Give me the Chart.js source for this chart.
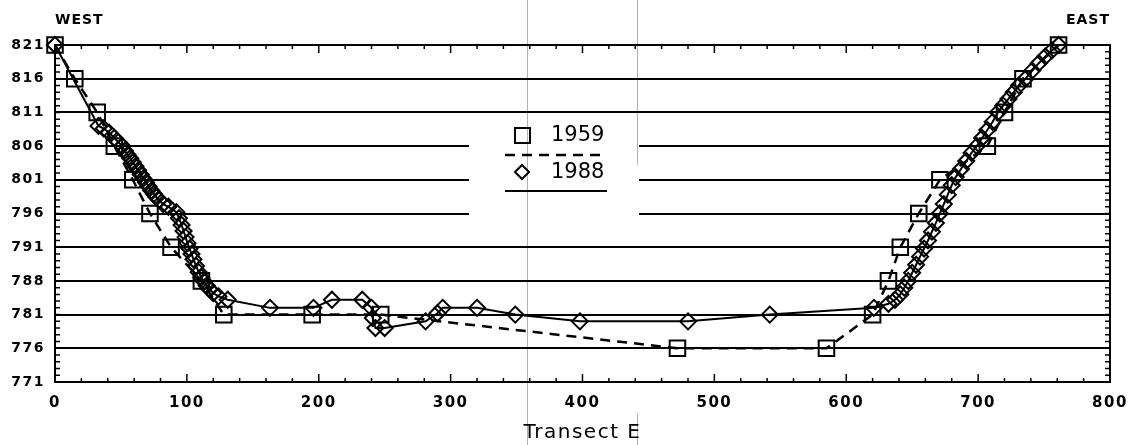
<!DOCTYPE html>
<html>
<head>
<meta charset="utf-8">
<script src="https://cdn.jsdelivr.net/npm/chart.js@4/dist/chart.umd.min.js"></script>
<style>
  html, body { margin: 0; padding: 0; background: #fff; }
  #wrap { width: 1144px; height: 445px; position: relative; }
</style>
</head>
<body>
<div id="wrap"><canvas id="c" width="1144" height="445"></canvas></div>
<script>
// ---- data ----
const seriesNames = ['1959', '1988'];

const x1959 = [0, 15, 32, 45, 59, 72, 88, 111, 128, 195, 247, 472, 585, 620, 632, 641, 655, 671, 707, 720, 734, 761];
const y1959 = [821, 816, 811, 806, 801, 796, 791, 786, 781, 781, 781, 776, 776, 781, 786, 791, 796, 801, 806, 811, 816, 821];

const x1988 = [0, 33, 37, 41, 45, 48, 51, 53, 55, 57, 59, 61, 63, 65, 67, 69, 71, 73, 75, 77, 79, 82, 86, 92,
  94, 96, 97.5, 99, 100.5, 102, 103.5, 105, 107, 109, 111, 113, 115, 117, 120, 124, 131,
  163, 196, 210, 233, 240, 241, 243, 250, 281, 290, 294, 320, 349, 398, 480, 542, 621,
  632, 637, 641, 644, 647, 650, 653, 656, 659, 662, 665, 668, 671, 674, 677, 680, 683, 687, 691, 695, 699,
  703, 707, 711, 715, 719, 723, 727, 731, 736, 741, 746, 751, 756, 761];
const y1988 = [821, 809, 808.6, 808, 807.2, 806.6, 806, 805.3, 804.7, 804.2, 803.6, 803, 802.4, 801.8, 801.2, 800.6, 800, 799.4, 798.9, 798.4, 798, 797.4, 797, 796.2,
  795.3, 794.3, 793.4, 792.5, 791.6, 790.8, 790, 789.2, 788.2, 787.3, 786.5, 785.9, 785.3, 784.8, 784.2, 783.7, 783.2,
  782, 782, 783.2, 783.2, 782, 780.5, 779, 779, 780, 781.2, 782, 782, 781, 780, 780, 781, 782,
  782.6, 783.2, 784, 785, 786, 787.2, 788.4, 789.6, 790.8, 792, 793.3, 794.6, 796, 797.4, 798.8, 800.2, 801.4, 802.6, 803.8, 805, 806,
  807.2, 808.4, 809.6, 811, 812, 813, 814, 815, 816, 817.2, 818.3, 819.3, 820.2, 821];

const xTicks = [0, 100, 200, 300, 400, 500, 600, 700, 800];
const yTickValues = [771, 776, 781, 786, 791, 796, 801, 806, 811, 816, 821];
const yTickLabels = ['771', '776', '781', '788', '791', '796', '801', '806', '811', '816', '821'];
const xTitle = 'Transect E';
const sideLabels = ['WEST', 'EAST'];

// ---- helpers ----
const toPts = (xs, ys) => xs.map((x, i) => ({ x: x, y: ys[i] }));
const FONT = 'DejaVu Sans';

const decoPlugin = {
  id: 'deco',
  beforeDraw(chart) {
    const ctx = chart.ctx;
    try { ctx.letterSpacing = '1.5px'; } catch (e) {}
  },
  beforeDatasetsDraw(chart) {
    const { ctx, chartArea: a, scales } = chart;
    const xs = scales.x, ys = scales.y;
    ctx.save();
    // gap in grid lines behind the legend
    ctx.fillStyle = '#fff';
    ctx.fillRect(469, 125, 170, 100);
    // frame
    ctx.strokeStyle = '#000';
    ctx.lineWidth = 2;
    ctx.strokeRect(a.left, a.top, a.right - a.left, a.bottom - a.top);
    // x ticks (inside, top and bottom)
    ctx.lineWidth = 1.5;
    ctx.beginPath();
    for (let v = 0; v <= 800; v += 20) {
      const px = xs.getPixelForValue(v);
      const len = (v % 100 === 0) ? 8 : 4;
      ctx.moveTo(px, a.bottom); ctx.lineTo(px, a.bottom - len);
      ctx.moveTo(px, a.top); ctx.lineTo(px, a.top + len);
    }
    // y minor ticks (inside, left and right)
    for (let v = 771; v <= 821; v += 1) {
      const py = ys.getPixelForValue(v);
      ctx.moveTo(a.left, py); ctx.lineTo(a.left + 5, py);
      ctx.moveTo(a.right, py); ctx.lineTo(a.right - 5, py);
    }
    ctx.stroke();
    ctx.restore();
  },
  afterDraw(chart) {
    const { ctx, chartArea: a } = chart;
    ctx.save();
    ctx.fillStyle = '#000';
    ctx.strokeStyle = '#000';
    // WEST / EAST
    ctx.font = 'bold 14px "' + FONT + '"';
    try { ctx.letterSpacing = '1px'; } catch (e) {}
    ctx.textBaseline = 'middle';
    ctx.textAlign = 'left';
    ctx.fillText(sideLabels[0], a.left, 20);
    ctx.textAlign = 'right';
    ctx.fillText(sideLabels[1], a.right, 20);
    try { ctx.letterSpacing = '0px'; } catch (e) {}
    // legend
    ctx.font = '21px "' + FONT + '"';
    ctx.textAlign = 'left';
    ctx.lineWidth = 2;
    ctx.strokeRect(515, 128, 15, 15);
    ctx.fillText(seriesNames[0], 551, 136);
    ctx.setLineDash([10, 7]);
    ctx.lineWidth = 2.5;
    ctx.beginPath(); ctx.moveTo(505, 155); ctx.lineTo(607, 155); ctx.stroke();
    ctx.setLineDash([]);
    ctx.lineWidth = 2;
    ctx.beginPath();
    ctx.moveTo(522 - 7, 172); ctx.lineTo(522, 165); ctx.lineTo(522 + 7, 172); ctx.lineTo(522, 179); ctx.closePath();
    ctx.stroke();
    ctx.fillText(seriesNames[1], 551, 173);
    ctx.beginPath(); ctx.moveTo(505, 191); ctx.lineTo(607, 191); ctx.stroke();
    // faint scan lines seen in the reference
    ctx.strokeStyle = 'rgba(0,0,0,0.3)';
    ctx.lineWidth = 1;
    ctx.beginPath();
    ctx.moveTo(527.5, 0); ctx.lineTo(527.5, 445);
    ctx.moveTo(637.5, 0); ctx.lineTo(637.5, 165);
    ctx.moveTo(637.5, 413); ctx.lineTo(637.5, 445);
    ctx.stroke();
    ctx.restore();
  }
};

new Chart(document.getElementById('c'), {
  type: 'line',
  data: {
    datasets: [
      {
        label: seriesNames[0],
        data: toPts(x1959, y1959),
        borderColor: '#000',
        borderWidth: 2.5,
        borderDash: [10, 7],
        pointStyle: 'rect',
        pointRadius: 11,
        pointBorderWidth: 2,
        pointBorderColor: '#000',
        pointBackgroundColor: 'rgba(0,0,0,0)',
        tension: 0,
        fill: false,
        clip: false
      },
      {
        label: seriesNames[1],
        data: toPts(x1988, y1988),
        borderColor: '#000',
        borderWidth: 2,
        pointStyle: 'rectRot',
        pointRadius: 8,
        pointBorderWidth: 2,
        pointBorderColor: '#000',
        pointBackgroundColor: 'rgba(0,0,0,0)',
        tension: 0,
        fill: false,
        clip: false
      }
    ]
  },
  options: {
    responsive: false,
    animation: false,
    events: [],
    layout: { padding: { left: 0, right: 34, top: 45, bottom: 0 } },
    plugins: { legend: { display: false }, tooltip: { enabled: false }, title: { display: false } },
    scales: {
      x: {
        type: 'linear',
        min: 0, max: 800,
        afterBuildTicks(s) { s.ticks = xTicks.map(v => ({ value: v })); },
        afterFit(s) { s.height = 63; },
        ticks: {
          color: '#000',
          font: { family: FONT, weight: 'bold', size: 15 },
          padding: 12,
          maxRotation: 0,
          autoSkip: false
        },
        grid: { display: false, drawTicks: false },
        border: { display: false },
        title: {
          display: true,
          text: xTitle,
          color: '#000',
          font: { family: FONT, size: 20 },
          padding: { top: 0, bottom: 0 }
        }
      },
      y: {
        type: 'linear',
        min: 771, max: 821,
        afterBuildTicks(s) { s.ticks = yTickValues.map(v => ({ value: v })); },
        afterFit(s) { s.width = 55; },
        ticks: {
          color: '#000',
          font: { family: FONT, weight: 'bold', size: 14 },
          padding: 10,
          autoSkip: false,
          callback: (v, i) => yTickLabels[i]
        },
        grid: { color: '#000', lineWidth: 2, drawTicks: false },
        border: { display: false }
      }
    }
  },
  plugins: [decoPlugin]
});
</script>
</body>
</html>
